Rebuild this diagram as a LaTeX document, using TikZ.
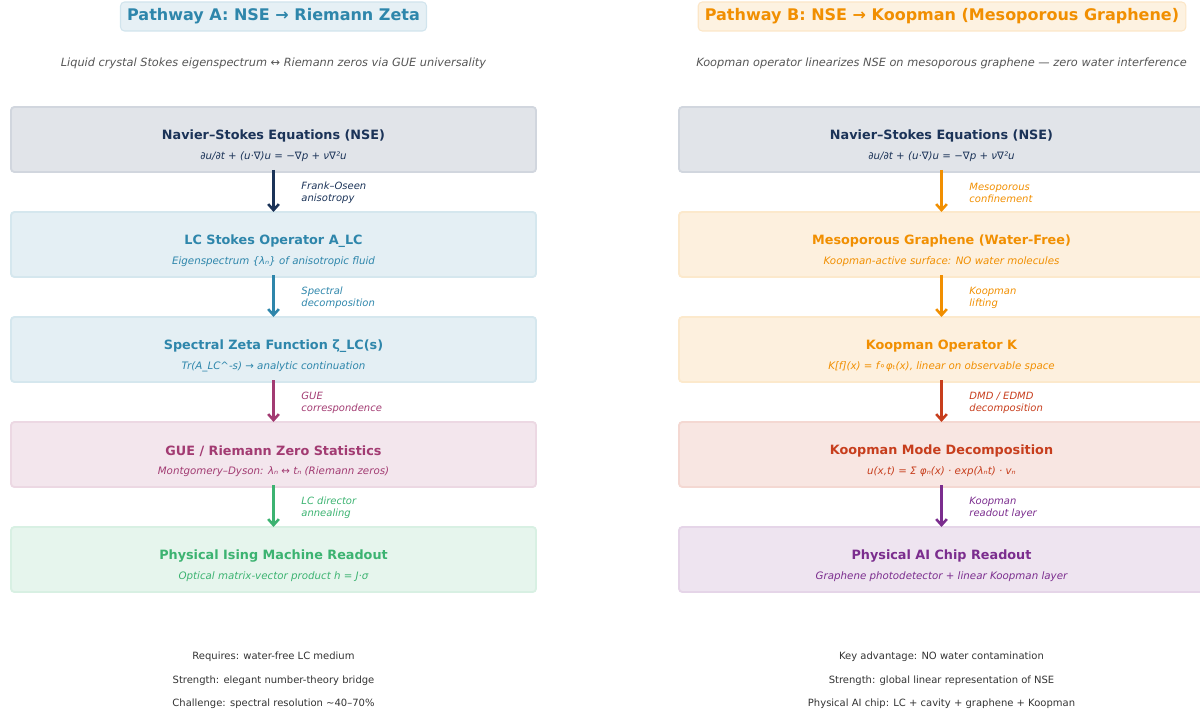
\documentclass[tikz,border=0pt]{standalone}
\usepackage{fontspec}
\setmainfont{DejaVu Sans}
\usepackage{xcolor}
\usepackage{tikz}
\usetikzlibrary{positioning}
\usetikzlibrary{arrows.meta}

\definecolor{nsenavy}{HTML}{1B3358}
\definecolor{lcteal}{HTML}{2E86AB}
\definecolor{gueplum}{HTML}{A23B72}
\definecolor{isinggreen}{HTML}{3CB371}
\definecolor{koorange}{HTML}{F18F01}
\definecolor{kmdred}{HTML}{C73E1D}
\definecolor{chippurple}{HTML}{7B2D8E}
\definecolor{footgrey}{HTML}{333333}
\definecolor{taggrey}{HTML}{555555}

\tikzset{
  stage/.style={draw=#1!20!white, fill=#1!13!white, line width=1.4pt, outer sep=0pt,
    rounded corners=2.5pt, minimum width=393.75pt, minimum height=48.75pt, inner sep=0pt},
  ttl/.style={text=#1, font=\fontsize{9.6}{11}\selectfont\bfseries, inner sep=0pt},
  sub/.style={text=#1, font=\fontsize{7.7}{9}\selectfont\itshape, inner sep=0pt},
  flow/.style={draw=#1, line width=1.9pt, -{Straight Barb[length=4.5pt,width=8pt]}},
  lbl/.style={text=#1, font=\fontsize{7.5}{9}\selectfont\itshape, align=left,
    inner sep=0pt, right=20pt, yshift=-1.5pt},
  head/.style={text=#1, draw=#1!22!white, fill=#1!12!white, line width=0.8pt,
    rounded corners=3pt, font=\fontsize{12}{14}\selectfont\bfseries,
    inner xsep=5pt, minimum height=21.75pt},
  tag/.style={text=taggrey, font=\fontsize{8.5}{10}\selectfont\itshape},
  foot/.style={text=footgrey, font=\fontsize{7.5}{9}\selectfont}
}

\begin{document}
\begin{tikzpicture}[x=0.75pt, y=-0.75pt, node distance=30pt]
\useasboundingbox (0,0) rectangle (1200,713);

% pathway A
\node[head=lcteal] (hA) at (273.5,16.5) {Pathway A: NSE → Riemann Zeta};
\node[tag] (tA) at (273.5,63.5) {Liquid crystal Stokes eigenspectrum ↔ Riemann zeros via GUE universality};

\node[stage=nsenavy] (a1) at (273.5,139.5) {};
\node[stage=lcteal, below=of a1] (a2) {};
\node[stage=lcteal, below=of a2] (a3) {};
\node[stage=gueplum, below=of a3] (a4) {};
\node[stage=isinggreen, below=of a4] (a5) {};

\node[ttl=nsenavy] (a1t) at ([yshift=2.6pt]a1.center) {Navier–Stokes Equations (NSE)};
\node[sub=nsenavy] (a1s) at ([yshift=-13pt]a1.center) {∂u/∂t + (u·∇)u = −∇p + ν∇²u};
\node[ttl=lcteal] (a2t) at ([yshift=2.6pt]a2.center) {LC Stokes Operator A\_LC};
\node[sub=lcteal] (a2s) at ([yshift=-13pt]a2.center) {Eigenspectrum \{λₙ\} of anisotropic fluid};
\node[ttl=lcteal] (a3t) at ([yshift=2.6pt]a3.center) {Spectral Zeta Function ζ\_LC(s)};
\node[sub=lcteal] (a3s) at ([yshift=-13pt]a3.center) {Tr(A\_LC\textasciicircum-s) → analytic continuation};
\node[ttl=gueplum] (a4t) at ([yshift=2.6pt]a4.center) {GUE / Riemann Zero Statistics};
\node[sub=gueplum] (a4s) at ([yshift=-13pt]a4.center) {Montgomery–Dyson: λₙ ↔ tₙ (Riemann zeros)};
\node[ttl=isinggreen] (a5t) at ([yshift=2.6pt]a5.center) {Physical Ising Machine Readout};
\node[sub=isinggreen] (a5s) at ([yshift=-13pt]a5.center) {Optical matrix-vector product h = J·σ};

\draw[flow=nsenavy] ([yshift=1.5pt]a1.south) -- node[lbl=nsenavy] (la1) {Frank–Oseen\\anisotropy} (a2.north);
\draw[flow=lcteal] ([yshift=1.5pt]a2.south) -- node[lbl=lcteal] (la2) {Spectral\\decomposition} (a3.north);
\draw[flow=gueplum] ([yshift=1.5pt]a3.south) -- node[lbl=gueplum] (la3) {GUE\\correspondence} (a4.north);
\draw[flow=isinggreen] ([yshift=1.5pt]a4.south) -- node[lbl=isinggreen] (la4) {LC director\\annealing} (a5.north);

\node[foot] (fA1) at (273.5,657) {Requires: water-free LC medium};
\node[foot] (fA2) at (273.5,680.5) {Strength: elegant number-theory bridge};
\node[foot] (fA3) at (273.5,704) {Challenge: spectral resolution \textasciitilde 40–70\%};

% pathway B
\node[head=koorange] (hB) at (942,16.5) {Pathway B: NSE → Koopman (Mesoporous Graphene)};
\node[tag] (tB) at (941.5,63.5) {Koopman operator linearizes NSE on mesoporous graphene — zero water interference};

\node[stage=nsenavy] (b1) at (941.5,139.5) {};
\node[stage=koorange, below=of b1] (b2) {};
\node[stage=koorange, below=of b2] (b3) {};
\node[stage=kmdred, below=of b3] (b4) {};
\node[stage=chippurple, below=of b4] (b5) {};

\node[ttl=nsenavy] (b1t) at ([yshift=2.6pt]b1.center) {Navier–Stokes Equations (NSE)};
\node[sub=nsenavy] (b1s) at ([yshift=-13pt]b1.center) {∂u/∂t + (u·∇)u = −∇p + ν∇²u};
\node[ttl=koorange] (b2t) at ([yshift=2.6pt]b2.center) {Mesoporous Graphene (Water-Free)};
\node[sub=koorange] (b2s) at ([yshift=-13pt]b2.center) {Koopman-active surface: NO water molecules};
\node[ttl=koorange] (b3t) at ([yshift=2.6pt]b3.center) {Koopman Operator K};
\node[sub=koorange] (b3s) at ([yshift=-13pt]b3.center) {K[f](x) = f∘φₜ(x), linear on observable space};
\node[ttl=kmdred] (b4t) at ([yshift=2.6pt]b4.center) {Koopman Mode Decomposition};
\node[sub=kmdred] (b4s) at ([yshift=-13pt]b4.center) {u(x,t) = Σ φₙ(x) · exp(λₙt) · vₙ};
\node[ttl=chippurple] (b5t) at ([yshift=2.6pt]b5.center) {Physical AI Chip Readout};
\node[sub=chippurple] (b5s) at ([yshift=-13pt]b5.center) {Graphene photodetector + linear Koopman layer};

\draw[flow=koorange] ([yshift=1.5pt]b1.south) -- node[lbl=koorange] (lb1) {Mesoporous\\confinement} (b2.north);
\draw[flow=koorange] ([yshift=1.5pt]b2.south) -- node[lbl=koorange] (lb2) {Koopman\\lifting} (b3.north);
\draw[flow=kmdred] ([yshift=1.5pt]b3.south) -- node[lbl=kmdred] (lb3) {DMD / EDMD\\decomposition} (b4.north);
\draw[flow=chippurple] ([yshift=1.5pt]b4.south) -- node[lbl=chippurple] (lb4) {Koopman\\readout layer} (b5.north);

\node[foot] (fB1) at (941.5,657) {Key advantage: NO water contamination};
\node[foot] (fB2) at (941.5,680.5) {Strength: global linear representation of NSE};
\node[foot] (fB3) at (941.5,704) {Physical AI chip: LC + cavity + graphene + Koopman};
\end{tikzpicture}
\end{document}
